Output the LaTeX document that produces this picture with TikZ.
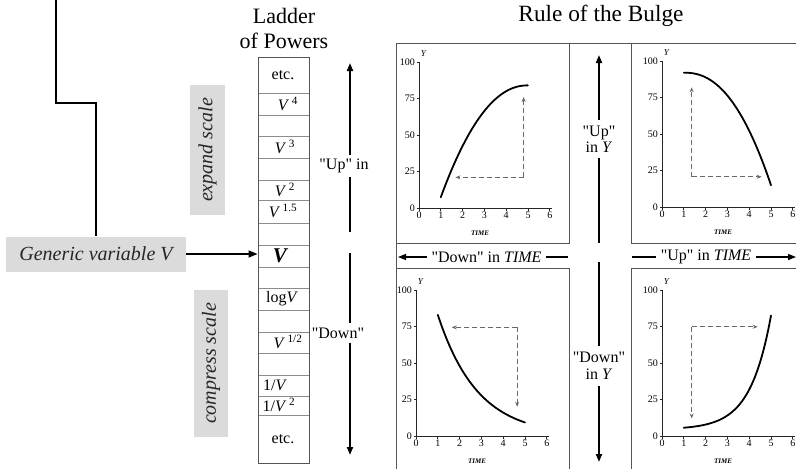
\documentclass[tikz,border=0pt]{standalone}
\usepackage{fontspec}
\setmainfont{Liberation Serif}
\newfontfamily\qfont{Liberation Serif}
\usetikzlibrary{arrows.meta}
\definecolor{labelgray}{RGB}{219,219,219}
\definecolor{framegray}{RGB}{85,85,85}
\definecolor{cellgray}{RGB}{140,140,140}
\definecolor{dashgray}{RGB}{105,105,105}
\newcommand{\fs}[1]{\fontsize{#1}{#1}\selectfont}
\newcommand{\qq}{{\qfont\symbol{34}}}
\newcommand{\bulgeaxes}{%
  \draw[axisline] (0,100) -- (0,0) -- (6.1,0);
  \foreach \v in {0,25,50,75,100} {
    \draw[axisline] (0,\v) -- ++(-2.5pt,0pt);
    \node[ticklab, anchor=east] at ([xshift=-3pt]0,\v) {\v};
  }
  \foreach \v in {0,...,6} {
    \draw[axisline] (\v,0) -- ++(0pt,-2.5pt);
    \node[ticklab, anchor=north] at ([yshift=-3pt]\v,0) {\v};
  }
  \node[font=\fs{9}\itshape, inner sep=0pt] at (0.2,106) {Y};
  \node[font=\fs{7}\bfseries\itshape, inner sep=0pt] at (2.8,-17) {TIME};
}
\begin{document}
\begin{tikzpicture}[x=1pt,y=-1pt,
  graybox/.style={fill=labelgray, inner sep=0pt, font=\fs{20}\itshape, text=black!85},
  frame/.style={draw=framegray, line width=1pt},
  cellline/.style={draw=cellgray, line width=0.7pt},
  celltext/.style={font=\fs{16}, inner sep=0pt},
  biglabel/.style={font=\fs{16}, align=center},
  bigline/.style={line width=1.9pt},
  bigarrow/.style={line width=1.9pt, -{Triangle[length=8pt,width=6pt]}},
  bandline/.style={line width=1.4pt},
  bandarrow/.style={line width=1.4pt, -{Triangle[length=8pt,width=6pt]}},
  connector/.style={line width=1.3pt},
  axisline/.style={line width=0.9pt, black!85},
  ticklab/.style={font=\fs{10}, inner sep=1pt},
  curve/.style={line width=1.8pt, line cap=round},
  dasharrow/.style={draw=dashgray, line width=0.8pt, dash pattern=on 5pt off 3pt, -{Stealth[length=5pt,width=4pt]}}
]
\useasboundingbox (0,0) rectangle (796,469);

% titles
\node[font=\fontsize{22}{25}\selectfont, align=center] (ladtitle) at (284,28) {Ladder\\of Powers};
\node[font=\fs{23.3}] (bulgetitle) at (601,15.4) {Rule of the Bulge};

% ladder
\node[draw=framegray, line width=0.9pt, minimum width=51pt, minimum height=406pt, inner sep=0pt] (ladder) at (283.5,260) {};
\foreach \yy in {93,115,136,158,180,200,223,245,267,288,310,332,353,375,396,415}
  \draw[cellline] (258.5,\yy) -- (308.5,\yy);
\node[celltext] (c1) at (283,75) {etc.};
\node[celltext] (c2) at (288,104) {\textit{V}\,\textsuperscript{4}};
\node[celltext] (c3) at (285,147) {\textit{V}\,\textsuperscript{3}};
\node[celltext] (c4) at (285,190) {\textit{V}\,\textsuperscript{2}};
\node[celltext] (c5) at (283,211) {\textit{V}\,\textsuperscript{1.5}};
\node[celltext, font=\fs{21}\bfseries\itshape] (c6) at (280,256) {V};
\node[celltext] (c7) at (282,299) {log\textit{V}};
\node[celltext] (c8) at (288,342) {\textit{V}\,\textsuperscript{1/2}};
\node[celltext] (c9) at (275,385) {1/\textit{V}};
\node[celltext] (c10) at (279,405) {1/\textit{V}\,\textsuperscript{2}};
\node[celltext] (c11) at (283,439) {etc.};

% ladder arrows
\node[font=\fs{16}, inner sep=4pt] (lupin) at (344,166) {\qq Up\qq{} in};
\node[font=\fs{16}, inner sep=4pt] (ldown) at (338,333) {\qq Down\qq};
\coordinate (luptip) at (350,63);
\coordinate (lgapA) at (350,232);
\coordinate (lgapB) at (350,253);
\coordinate (lbot) at (350,455);
\draw[bigarrow] (lupin.north -| luptip) -- (luptip);
\draw[bigline] (lupin.south -| luptip) -- (lgapA);
\draw[bigline] (lgapB) -- (ldown.north -| lgapB);
\draw[bigarrow] (ldown.south -| lbot) -- (lbot);

% left labels
\node[graybox, minimum width=180pt, minimum height=35pt] (gen) at (96,254) {Generic variable V};
\node[graybox, rotate=90, minimum width=130pt, minimum height=35pt] (expand) at (207.5,150) {expand scale};
\node[graybox, rotate=90, minimum width=147pt, minimum height=34pt] (compress) at (211,363.5) {compress scale};
\coordinate (topc) at (56,-2);
\coordinate (elbow) at (96,103);
\draw[connector] (topc) |- (elbow) -- (gen.north);
\draw[connector, -{Triangle[length=9pt,width=7pt]}] (gen.east) -- (gen.east -| ladder.west);

% frames of the bulge panel
\draw[frame] (396,43) -- (796,43);
\draw[frame] (396,43) rectangle (569,243);
\draw[frame] (396,268) rectangle (569,480);
\draw[frame] (396,243) -- (396,268);
\draw[frame] (631,43) rectangle (800,243);
\draw[frame] (631,268) rectangle (800,480);

% center vertical arrow
\node[biglabel, font=\fontsize{16}{16}\selectfont, inner xsep=2pt, inner ysep=6pt] (upY) at (599,139) {\qq Up\qq\\in \textit{Y}};
\node[biglabel, font=\fontsize{16}{17}\selectfont, inner xsep=2pt, inner ysep=6pt] (downY) at (599,366) {\qq Down\qq\\in \textit{Y}};
\coordinate (ytop) at (599,55);
\coordinate (ymidA) at (599,243);
\coordinate (ymidB) at (599,262);
\coordinate (ybot) at (599,462);
\draw[bigarrow] (upY.north) -- (ytop);
\draw[bigline] (upY.south) -- (ymidA);
\draw[bigline] (ymidB) -- (downY.north);
\draw[bigarrow] (downY.south) -- (ybot);

% horizontal band
\node[font=\fs{16}, inner sep=4pt] (downT) at (486.5,257) {\qq Down\qq{} in \textit{TIME}};
\node[font=\fs{16}, inner sep=5pt] (upT) at (706,257) {\qq Up\qq{} in \textit{TIME}};
\coordinate (tleft) at (398,257);
\coordinate (tlend) at (568,257);
\coordinate (trstart) at (632,257);
\coordinate (tright) at (796,257);
\draw[bandarrow] (downT.west) -- (tleft);
\draw[bandline] (downT.east) -- (tlend);
\draw[bandline] (trstart) -- (upT.west);
\draw[bandarrow] (upT.east) -- (tright);

% plot: top left
\begin{scope}[shift={(419,208)}, x=21.8pt, y=1.46pt]
  \bulgeaxes
  \draw[curve] plot[domain=1:4.995, samples=40, smooth] (\x,{84-4*(5-\x)^2.13});
  \draw[dasharrow] (4.8,21) -- (1.67,21);
  \draw[dasharrow] (4.8,21) -- (4.8,76);
\end{scope}
% plot: top right
\begin{scope}[shift={(662,207)}, x=21.8pt, y=1.46pt]
  \bulgeaxes
  \draw[curve] plot[domain=1.005:5, samples=40, smooth] (\x,{92-3.18*(\x-1)^2.3});
  \draw[dasharrow] (1.36,20.7) -- (1.36,82);
  \draw[dasharrow] (1.36,20.7) -- (4.57,20.7);
\end{scope}
% plot: bottom left
\begin{scope}[shift={(416,436)}, x=21.8pt, y=1.46pt]
  \bulgeaxes
  \draw[curve] plot[domain=1:5, samples=40, smooth] (\x,{83*exp(-0.548*(\x-1))});
  \draw[dasharrow] (4.64,74.4) -- (1.64,74.4);
  \draw[dasharrow] (4.64,74.4) -- (4.64,20);
\end{scope}
% plot: bottom right
\begin{scope}[shift={(662,436)}, x=21.8pt, y=1.46pt]
  \bulgeaxes
  \draw[curve] plot[domain=1:5, samples=40, smooth] (\x,{4.5+78*exp(-1.05*(5-\x))});
  \draw[dasharrow] (1.36,74.8) -- (1.36,12);
  \draw[dasharrow] (1.36,74.8) -- (4.39,74.8);
\end{scope}
\end{tikzpicture}
\end{document}
